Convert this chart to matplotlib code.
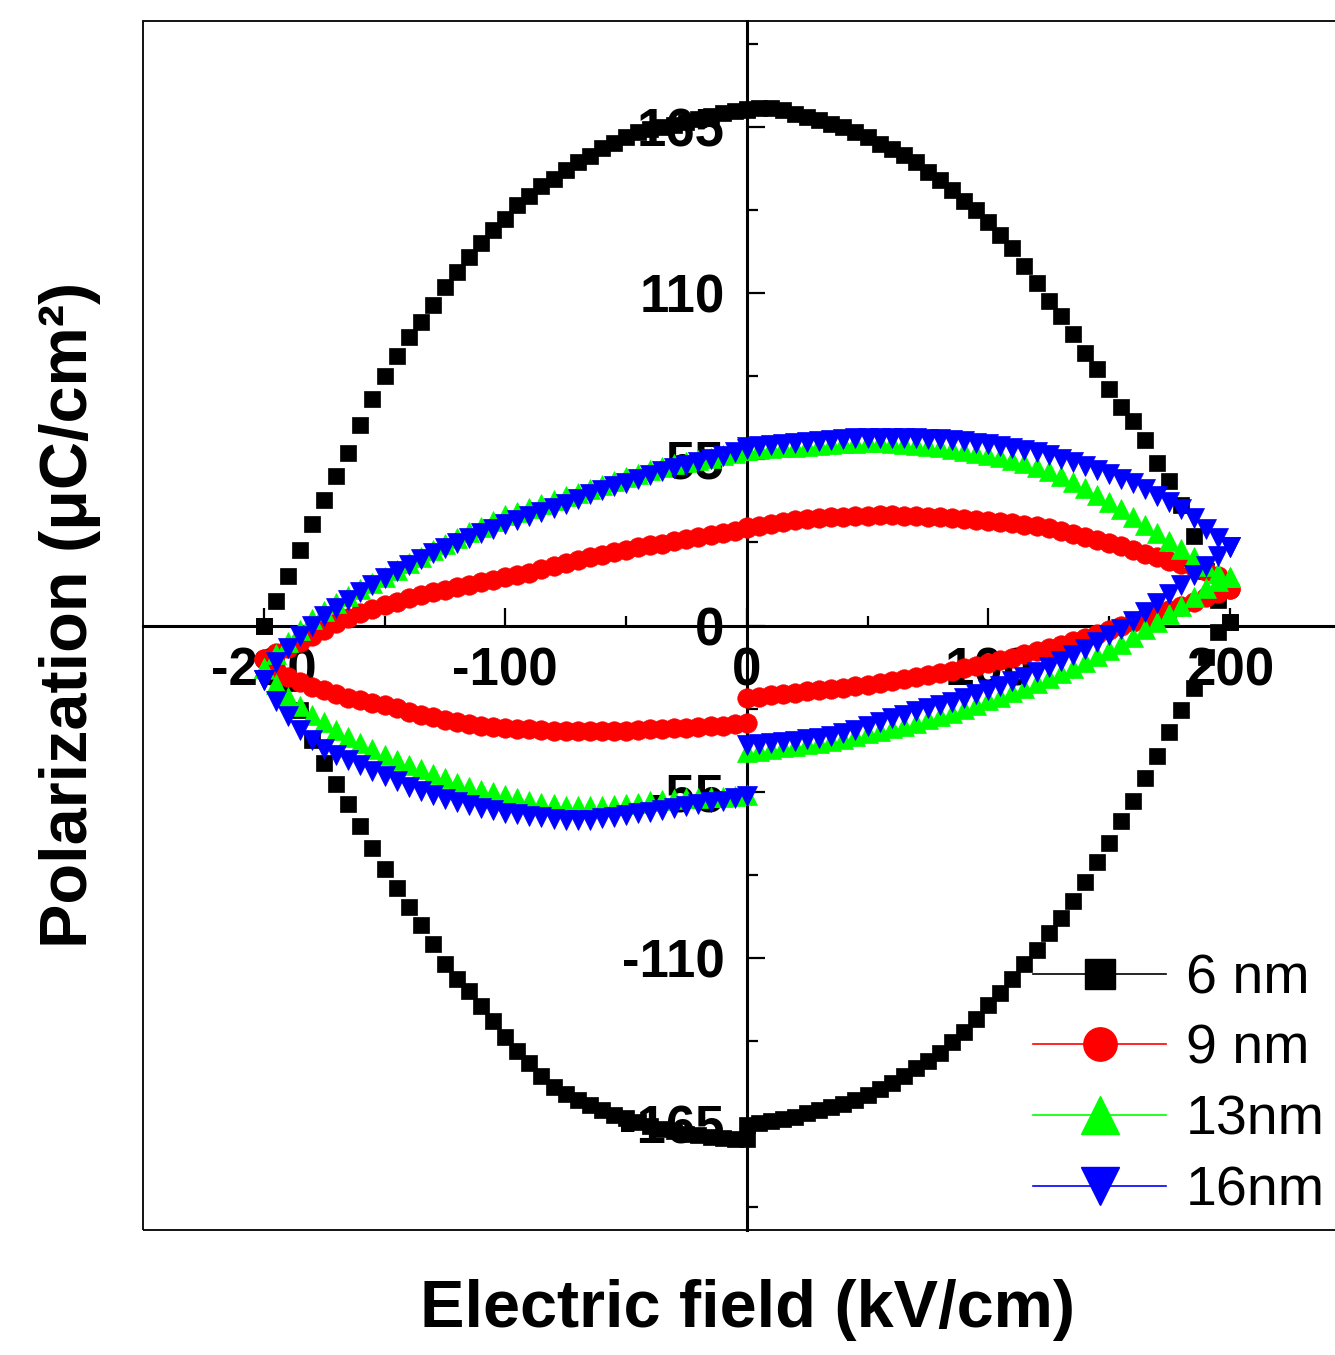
import matplotlib
matplotlib.use("Agg")
import matplotlib.pyplot as plt
from matplotlib.lines import Line2D
from matplotlib.patches import Rectangle

plt.rcParams['font.family'] = ['Liberation Sans', 'DejaVu Sans']
plt.rcParams['axes.unicode_minus'] = False

# |E| sampling (kV/cm) shared by every branch of the loops
E_GRID = [0, 5, 10, 15, 20, 25, 30, 35, 40, 45, 50, 55, 60, 65, 70, 75, 80, 85, 90, 95, 100,
          105, 110, 115, 120, 125, 130, 135, 140, 145, 150, 155, 160, 165, 170, 175, 180,
          185, 190, 195, 200]

# 6 nm film, P in uC/cm2 at each |E|
P6_RISE_POS = [-165.3, -164.5, -163.8, -163.3, -162.5, -161.4, -160.4, -159.2, -158.2, -157, -155.5,
               -153.4, -151.2, -149.1, -146.4, -144.2, -141.3, -137.7, -134.4, -130.1, -125.7,
               -121.6, -116.8, -112, -107.5, -101.8, -96.8, -91, -84.7, -78.2, -71.8,
               -64.7, -57.9, -50.3, -43.3, -35.3, -27.8, -20.6, -10.5, -2, 1]
P6_FALL_POS = [170.8, 171.2, 171.3, 170.4, 169.3, 168.2, 167.3, 166, 164.8, 163.3, 161.5,
               159.3, 157.7, 155.6, 153.4, 150.2, 147.3, 144, 140.3, 137.5, 133.5,
               129.3, 124.8, 118.8, 113.2, 107.3, 102.4, 96.3, 90.2, 84.9, 78.3,
               72.4, 67.5, 61.5, 53.9, 47.8, 40, 29.5, 18, 8.5, 1]
P6_FALL_NEG = [170.5, 170.1, 169.5, 168.6, 167.6, 166.6, 165.7, 165, 164.2, 163.2, 161.6,
               159.8, 158, 155.4, 153.5, 150.7, 147.8, 145.5, 142, 139, 134.5,
               131, 126.5, 122, 117, 112, 106, 100.5, 95.5, 89, 82.5,
               75, 66.5, 57, 49.5, 41.5, 33.5, 25, 16.5, 8, 0]
P6_RISE_NEG = [-170, -169.8, -169.5, -169.1, -168.7, -168.1, -167.4, -166.6, -165.5, -164.4, -163.1,
               -161.8, -160.4, -158.7, -157, -155, -152.7, -148.9, -144.7, -140.9, -136,
               -131, -126, -121, -117, -112, -105.5, -99, -93, -87, -80.5,
               -73.5, -66.5, -59, -52.5, -45.5, -38, -28, -19, -10, 0]

# 9 nm film
P9_RISE_POS = [-24, -23.6, -23.1, -22.6, -22.2, -21.8, -21.4, -21, -20.6, -20.1, -19.7,
               -19.1, -18.4, -17.8, -17.1, -16.5, -15.8, -15, -14.1, -13.3, -12.4,
               -11.5, -10.6, -9.5, -8.5, -7.4, -6.3, -5.2, -4, -2.7, -1.4,
               0, 1.3, 2.6, 3.9, 5.2, 6.5, 7.9, 9.3, 10.7, 12]
P9_FALL_POS = [32.5, 33, 33.6, 34.3, 34.8, 35.2, 35.5, 35.8, 36, 36.2, 36.3,
               36.4, 36.4, 36.3, 36.2, 36, 35.8, 35.6, 35.3, 35, 34.7,
               34.3, 33.9, 33.4, 33, 32.2, 31.3, 30.4, 29.4, 28.4, 27.3,
               26.2, 25.1, 23.8, 22.5, 21.4, 20.4, 19.3, 18, 16.5, 12]
P9_FALL_NEG = [32.3, 31.2, 30.6, 30, 29.4, 28.5, 27.8, 27.1, 26.5, 25.9, 25,
               24.2, 23.4, 22.5, 21.7, 20.7, 19.7, 18.6, 17.5, 16.8, 16,
               15.2, 14.4, 13.5, 12.7, 11.9, 11, 10, 9, 7.8, 6.7,
               5.5, 4, 2.5, 0.8, -1.5, -3.5, -5.5, -7.5, -9, -11]
P9_RISE_NEG = [-32.3, -32.7, -33.1, -33.4, -33.6, -33.8, -34, -34.2, -34.4, -34.6, -34.8,
               -34.9, -34.9, -34.9, -34.9, -34.9, -34.8, -34.6, -34.4, -34.1, -33.9,
               -33.6, -33.1, -32.5, -32, -31.2, -30.4, -29.6, -28.6, -27.3, -26.3,
               -25.5, -24.8, -24, -22.8, -21.5, -20.2, -18.8, -17.2, -14.8, -11]

# 13 nm film
P13_RISE_POS = [-42, -41.4, -40.8, -40.3, -39.8, -39.3, -38.8, -38.2, -37.5, -36.6, -35.7,
                -34.9, -34, -33.2, -32.2, -31.1, -30, -28.8, -27.5, -26.2, -24.8,
                -23.5, -22, -20.6, -19.1, -17.5, -15.8, -14, -12.1, -10.1, -8.1,
                -6, -3.8, -1.3, 1.2, 3.8, 6.6, 9.5, 12.3, 14.6, 16]
P13_FALL_POS = [58, 58.3, 58.6, 58.9, 59.2, 59.5, 59.8, 60.1, 60.3, 60.5, 60.6,
                60.6, 60.4, 60.1, 59.8, 59.4, 59, 58.5, 57.8, 57.2, 56.4,
                55.6, 54.7, 53.6, 52.3, 51, 49.3, 47.5, 45.5, 43.3, 41,
                38.5, 35.8, 33.2, 30.6, 28, 25.3, 22.5, 19.8, 17.5, 16]
P13_FALL_NEG = [58, 57.2, 56.3, 55.4, 54.6, 54, 53.3, 52.5, 51.4, 50.2, 49,
                47.8, 46.5, 45.2, 44, 42.7, 41.4, 40.1, 38.9, 37.7, 36.4,
                34.5, 32.7, 30.8, 28.9, 27, 25, 22.8, 20.7, 18.4, 16.2,
                14, 12, 9.8, 7.4, 4.9, 2, -1.5, -5.5, -9.5, -14]
P13_RISE_NEG = [-56, -56.4, -56.6, -56.8, -57, -57.2, -57.4, -57.8, -58.2, -58.6, -59,
                -59.3, -59.6, -59.8, -59.8, -59.6, -59.2, -58.7, -58, -57.2, -56.2,
                -55.2, -54.3, -53.4, -52, -50.5, -49, -47.4, -46, -44.4, -42.8,
                -41, -39, -36.8, -34.5, -32, -29.5, -26.5, -23.5, -19.5, -14]

# 16 nm film
P16_RISE_POS = [-39.5, -39.2, -39, -38.6, -38.2, -37.7, -37.2, -36.5, -35.6, -34.5, -33.1,
                -31.8, -30.6, -29.6, -28.4, -27.3, -26.4, -25.2, -23.9, -22.5, -21.2,
                -19.9, -18.5, -17, -15.5, -13.7, -11.8, -9.8, -7.7, -5.5, -3.3,
                -1, 1.5, 4.6, 7.5, 10.5, 13.5, 16.6, 19.8, 23, 26]
P16_FALL_POS = [58.9, 59.3, 59.7, 60.1, 60.5, 60.8, 61.1, 61.4, 61.7, 61.9, 62,
                62.1, 62.1, 62.1, 62, 61.8, 61.6, 61.3, 61, 60.5, 60,
                59.5, 58.8, 58, 57.3, 56.3, 55.2, 54, 52.8, 51.5, 50,
                48.5, 47, 45, 43, 41, 38.5, 35.5, 32, 29, 26]
P16_FALL_NEG = [58.5, 57.3, 56.2, 55.1, 54.1, 53.1, 52.1, 51, 49.8, 48.5, 47.2,
                46, 44.7, 43.4, 41.7, 40.2, 38.8, 37.5, 36.3, 35, 33.5,
                32, 30.5, 29, 27.4, 25.7, 23.9, 22, 20.1, 17.9, 15.6,
                13.4, 11, 8.5, 5.8, 3, 0, -3.5, -7.5, -12, -18]
P16_RISE_NEG = [-56.5, -57.2, -57.9, -58.5, -59.2, -59.8, -60.4, -61, -61.6, -62.1, -62.8,
                -63.4, -63.8, -64.2, -64.4, -64.3, -64, -63.4, -62.9, -62.5, -62.1,
                -61.2, -60.4, -59.5, -58.4, -57.3, -56.1, -54.8, -53.3, -51.5, -49.9,
                -48, -46, -44.5, -42.8, -41, -38, -34.5, -30, -25, -18]

LABELS = ['6 nm', '9 nm', '13nm', '16nm']
COLORS = ['black', '#ff0000', '#00ff00', '#0000ff']
MARKERS = ['s', 'o', '^', 'v']
LOOPS = [
    (P6_RISE_POS, P6_FALL_POS, P6_FALL_NEG, P6_RISE_NEG),
    (P9_RISE_POS, P9_FALL_POS, P9_FALL_NEG, P9_RISE_NEG),
    (P13_RISE_POS, P13_FALL_POS, P13_FALL_NEG, P13_RISE_NEG),
    (P16_RISE_POS, P16_FALL_POS, P16_FALL_NEG, P16_RISE_NEG),
]

X_TICKS = [-200, -100, 0, 100, 200]
X_MINOR = [-150, -50, 50, 150]
Y_TICKS = [-165, -110, -55, 0, 55, 110, 165]
Y_MINOR = [-192.5, -137.5, -82.5, -27.5, 27.5, 82.5, 137.5, 192.5]


def full_loop(rise_pos, fall_pos, fall_neg, rise_neg):
    # 0 -> +Emax -> 0 -> -Emax -> 0
    e = E_GRID + E_GRID[::-1] + [-v for v in E_GRID] + [-v for v in E_GRID[::-1]]
    p = rise_pos + fall_pos[::-1] + fall_neg + rise_neg[::-1]
    return e, p


W, H = 1335, 1355
fig = plt.figure(figsize=(W / 100, H / 100), dpi=100)
ax = fig.add_axes([143 / W, 1 - 1230 / H, (1350.5 - 143) / W, (1230 - 21) / H])
ax.set_xlim(-250, 250)
ax.set_ylim(-200, 200)

msizes = [11, 14, 14, 14]
for loop, c, m, ms in zip(LOOPS, COLORS, MARKERS, msizes):
    e, p = full_loop(*loop)
    ax.plot(e, p, linestyle='none', marker=m, ms=ms, color=c, mec=c, mew=0.5, zorder=3)

# axes crossing at the origin, thin frame around the plot
for side in ['top', 'right']:
    ax.spines[side].set_visible(False)
ax.spines['left'].set_position(('data', 0))
ax.spines['bottom'].set_position(('data', 0))
for side in ['left', 'bottom']:
    ax.spines[side].set_linewidth(2.2)
ax.add_patch(Rectangle((0, 0), 1, 1, transform=ax.transAxes, fill=False,
                       lw=1.3, ec='black', clip_on=False, zorder=1))

ax.set_xticks(X_TICKS)
ax.set_xticks(X_MINOR, minor=True)
ax.set_yticks(Y_TICKS)
ax.set_yticks(Y_MINOR, minor=True)
ax.tick_params(which='both', direction='in', width=1.6, labelsize=38)
ax.tick_params(axis='x', which='major', length=13, pad=15)
ax.tick_params(axis='x', which='minor', length=7)
ax.tick_params(axis='y', which='major', length=13, pad=16)
ax.tick_params(axis='y', which='minor', length=8)
for lab in ax.get_xticklabels() + ax.get_yticklabels():
    lab.set_fontweight('bold')

fig.text(748 / W, 1 - 1310 / H, 'Electric field (kV/cm)', ha='center', va='center',
         fontsize=48, fontweight='bold')
fig.text(70 / W, 1 - 615 / H, 'Polarization (\u03bcC/cm\u00b2)', ha='center', va='center',
         rotation=90, fontsize=48, fontweight='bold')

leg_sizes = [21, 24, 28, 28]
handles = [Line2D([], [], color=c, lw=1.2, marker=m, ms=s, mec=c)
           for c, m, s in zip(COLORS, MARKERS, leg_sizes)]
ax.legend(handles, LABELS, loc='upper left', bbox_to_anchor=(1033 / W, 1 - 953 / H),
          bbox_transform=fig.transFigure, frameon=False, fontsize=40,
          handlelength=2.4, handletextpad=0.35, labelspacing=0.34,
          borderpad=0, borderaxespad=0)

fig.savefig('out.png', dpi=100)
